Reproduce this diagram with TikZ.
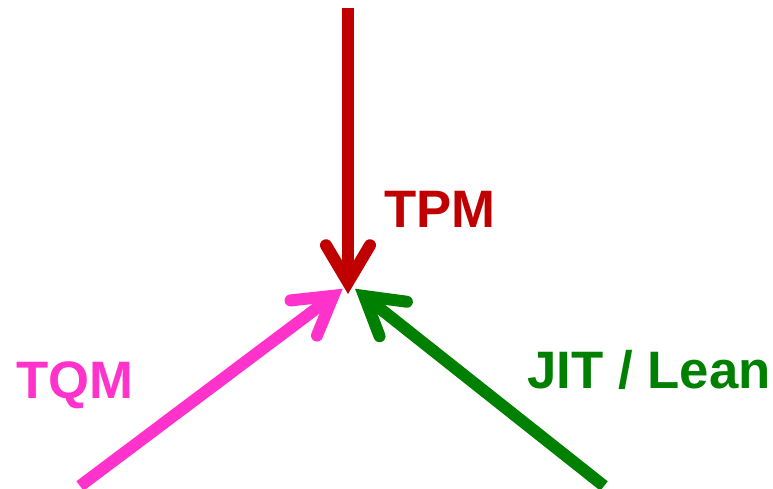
\documentclass[tikz,border=0pt]{standalone}
\usepackage{fontspec}
\setmainfont{Liberation Sans}
\usetikzlibrary{arrows.meta}
\definecolor{tpmred}{HTML}{C00000}
\definecolor{tqmpink}{HTML}{FF33CC}
\definecolor{jitgreen}{HTML}{008000}
\begin{document}
\begin{tikzpicture}[x=0.02cm,y=-0.02cm,
  pillar/.style={line width=0.24cm,
    -{Straight Barb[length=0.74cm,width=0.88cm,line cap=round,line join=miter]}},
  pillarlabel/.style={font=\fontsize{30}{30}\selectfont\bfseries,inner sep=0pt}]
\useasboundingbox (0,0) rectangle (773,489);
%Meeting point
\coordinate (hub) at (348,294);
%Arrow tails
\coordinate (tpmtail) at (348,8);
\coordinate (tqmtail) at (80,486);
\coordinate (jittail) at (604,486);
%Arrows
\draw[pillar,tpmred] (tpmtail) -- (hub);
\draw[pillar,tqmpink] (tqmtail) -- ([xshift=-3,yshift=3]hub);
\draw[pillar,jitgreen] (jittail) -- ([xshift=4,yshift=3]hub);
%Labels
\node[pillarlabel,text=tpmred] (tpm) at (440,209) {TPM};
\node[pillarlabel,text=tqmpink] (tqm) at (75,385) {TQM};
\node[pillarlabel,text=jitgreen] (jit) at (649,370) {JIT / Lean};
\end{tikzpicture}
\end{document}
